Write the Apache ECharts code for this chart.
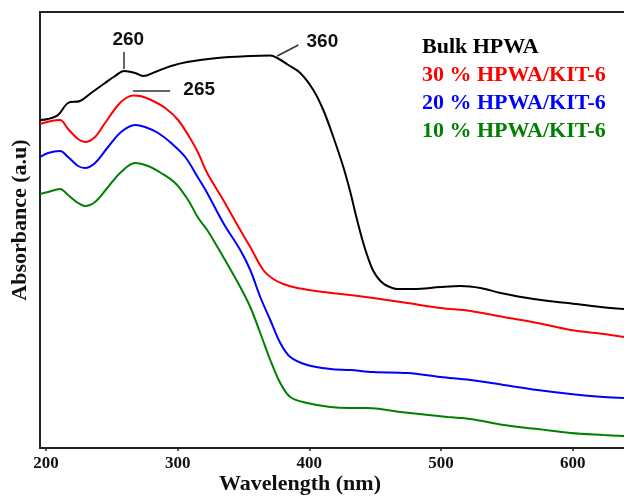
<!DOCTYPE html>
<html>
<head>
<meta charset="utf-8">
<script src="https://cdn.jsdelivr.net/npm/echarts@6/dist/echarts.min.js"></script>
<style>
  html, body { margin: 0; padding: 0; background: #fff; }
  #chart { width: 624px; height: 496px; }
</style>
</head>
<body>
<div id="chart"></div>
<script>
// UV-Vis diffuse reflectance spectra: [wavelength (nm), absorbance (a.u.)]
const bulkHPWA = [
  [195.4, 3.28], [201.5, 3.29], [209.1, 3.33], [216.7, 3.45], [225.8, 3.47],
  [234.2, 3.55], [244.8, 3.65], [252.4, 3.72], [259.3, 3.77], [267.6, 3.75],
  [273.7, 3.72], [282.9, 3.76], [295.0, 3.82], [307.2, 3.86], [330.0, 3.90],
  [355.1, 3.92], [370.3, 3.925], [375.6, 3.90], [384.0, 3.83], [393.1, 3.75],
  [403.0, 3.58], [410.6, 3.38], [418.2, 3.11], [425.8, 2.81], [431.1, 2.56],
  [435.7, 2.31], [440.3, 2.08], [444.1, 1.92], [448.6, 1.77], [454.0, 1.67],
  [459.3, 1.62], [466.9, 1.59], [479.1, 1.59], [499.6, 1.61], [514.8, 1.62],
  [530.0, 1.60], [545.2, 1.55], [570.3, 1.49], [596.2, 1.45], [621.3, 1.41],
  [639.0, 1.39]
];
const hpwaKit30 = [
  [195.4, 3.24], [203.8, 3.27], [210.6, 3.28], [216.7, 3.19], [224.3, 3.09],
  [229.6, 3.06], [237.2, 3.11], [244.8, 3.25], [254.7, 3.43], [260.8, 3.50],
  [266.1, 3.525], [271.5, 3.52], [279.8, 3.48], [290.5, 3.40], [300.3, 3.28],
  [310.2, 3.08], [315.6, 2.95], [322.4, 2.75], [334.6, 2.48], [347.5, 2.18],
  [355.1, 2.01], [365.0, 1.78], [372.6, 1.69], [380.2, 1.64], [390.8, 1.60],
  [410.6, 1.56], [431.1, 1.53], [448.6, 1.50], [474.5, 1.45], [499.6, 1.40],
  [522.4, 1.37], [547.5, 1.31], [573.3, 1.25], [598.4, 1.18], [623.5, 1.14],
  [639.0, 1.11]
];
const hpwaKit20 = [
  [195.4, 2.91], [201.5, 2.95], [210.6, 2.97], [216.7, 2.91], [224.3, 2.82],
  [229.6, 2.80], [237.2, 2.85], [247.1, 3.01], [257.0, 3.16], [267.6, 3.23],
  [275.2, 3.21], [285.1, 3.15], [295.0, 3.05], [305.7, 2.91], [315.6, 2.70],
  [322.4, 2.55], [334.6, 2.25], [347.5, 1.98], [355.1, 1.78], [362.7, 1.51],
  [370.3, 1.28], [377.9, 1.05], [385.5, 0.91], [398.4, 0.83], [415.9, 0.79],
  [431.1, 0.78], [448.6, 0.76], [474.5, 0.75], [499.6, 0.71], [522.4, 0.68],
  [547.5, 0.63], [573.3, 0.58], [598.4, 0.54], [623.5, 0.51], [639.0, 0.50]
];
const hpwaKit10 = [
  [195.4, 2.54], [201.5, 2.56], [210.6, 2.59], [216.7, 2.53], [224.3, 2.45],
  [229.6, 2.42], [237.2, 2.46], [247.1, 2.61], [257.0, 2.76], [267.6, 2.85],
  [277.5, 2.82], [287.4, 2.75], [298.1, 2.65], [307.9, 2.48], [315.6, 2.30],
  [322.4, 2.18], [334.6, 1.91], [347.5, 1.61], [355.1, 1.41], [362.7, 1.15],
  [370.3, 0.88], [377.9, 0.65], [385.5, 0.51], [398.4, 0.45], [415.9, 0.41],
  [431.1, 0.40], [444.1, 0.40], [469.2, 0.36], [504.9, 0.31], [522.4, 0.29],
  [547.5, 0.23], [573.3, 0.19], [598.4, 0.15], [623.5, 0.13], [639.0, 0.12]
];

const seriesNames = ['Bulk HPWA', '30 % HPWA/KIT-6', '20 % HPWA/KIT-6', '10 % HPWA/KIT-6'];
const seriesColors = ['#000000', '#ff0000', '#0000ff', '#008000'];
const seriesData = [bulkHPWA, hpwaKit30, hpwaKit20, hpwaKit10];
const xTicks = [200, 300, 400, 500, 600];

// Peak annotations: label text, label position, leader line ends (data coords)
const peakLabels = [
  { text: '260', at: [262.5, 4.08], line: [[259.3, 3.79], [259.3, 3.96]] },
  { text: '265', at: [316.3, 3.58], line: [[266.1, 3.57], [294.2, 3.57]] },
  { text: '360', at: [409.9, 4.06], line: [[375.6, 3.92], [391.6, 4.03]] }
];

const serif = '"Liberation Serif", "Times New Roman", serif';
const sans = '"Liberation Sans", Arial, sans-serif';

const chart = echarts.init(document.getElementById('chart'), null, { renderer: 'canvas' });

const series = seriesData.map((d, i) => ({
  name: seriesNames[i],
  type: 'line',
  data: d,
  showSymbol: false,
  smooth: 0.35,
  lineStyle: { color: seriesColors[i], width: 2 },
  itemStyle: { color: seriesColors[i] },
  z: 3
}));

// Annotations ride on the bulk spectrum
series[0].markLine = {
  silent: true,
  symbol: ['none', 'none'],
  label: { show: false },
  lineStyle: { color: '#333', width: 1.5, type: 'solid' },
  data: peakLabels.map(p => [{ coord: p.line[0] }, { coord: p.line[1] }])
};
series[0].markPoint = {
  silent: true,
  symbol: 'circle',
  symbolSize: 0,
  label: {
    show: true,
    position: 'inside',
    formatter: p => p.name,
    fontFamily: sans,
    fontWeight: 'bold',
    fontSize: 19,
    color: '#111'
  },
  data: peakLabels.map(p => ({ name: p.text, coord: p.at }))
};

const xMin = 195.4, xMax = 639;

chart.setOption({
  animation: false,
  backgroundColor: '#fff',
  grid: { left: 40, right: 0, top: 12, bottom: 48, containLabel: false, outerBoundsMode: 'none' },
  legend: {
    orient: 'vertical',
    left: 412,
    top: 31,
    icon: 'none',
    itemWidth: 0,
    itemHeight: 0,
    itemGap: 6,
    selectedMode: false,
    textStyle: { fontFamily: serif, fontWeight: 'bold', fontSize: 22, lineHeight: 22 },
    data: seriesNames.map((n, i) => ({ name: n, textStyle: { color: seriesColors[i] } }))
  },
  xAxis: [
    {
      type: 'value',
      min: xMin,
      max: xMax,
      position: 'bottom',
      name: 'Wavelength (nm)',
      nameLocation: 'middle',
      nameGap: 25,
      nameMoveOverlap: false,
      nameTextStyle: {
        fontFamily: serif, fontWeight: 'bold', fontSize: 22, color: '#111',
        padding: [0, 64, 0, 0]
      },
      axisLine: { show: true, onZero: false, lineStyle: { color: '#222', width: 2 } },
      axisTick: { show: true, length: 3, customValues: xTicks, lineStyle: { color: '#222', width: 1.5 } },
      axisLabel: {
        customValues: xTicks,
        margin: 7,
        fontFamily: serif, fontWeight: 'bold', fontSize: 17, color: '#111'
      },
      splitLine: { show: false }
    },
    {
      type: 'value',
      min: xMin,
      max: xMax,
      position: 'top',
      axisLine: { show: true, onZero: false, lineStyle: { color: '#222', width: 2 } },
      axisTick: { show: false },
      axisLabel: { show: false },
      splitLine: { show: false }
    }
  ],
  yAxis: {
    type: 'value',
    min: 0,
    max: 4.36,
    name: 'Absorbance (a.u)',
    nameLocation: 'middle',
    nameGap: 9,
    nameMoveOverlap: false,
    nameRotate: 90,
    nameTextStyle: {
      fontFamily: serif, fontWeight: 'bold', fontSize: 22, color: '#111',
      padding: [0, 0, 0, 20]
    },
    axisLine: { show: true, onZero: false, lineStyle: { color: '#222', width: 2 } },
    axisTick: { show: false },
    axisLabel: { show: false },
    splitLine: { show: false }
  },
  series: series
});
</script>
</body>
</html>
